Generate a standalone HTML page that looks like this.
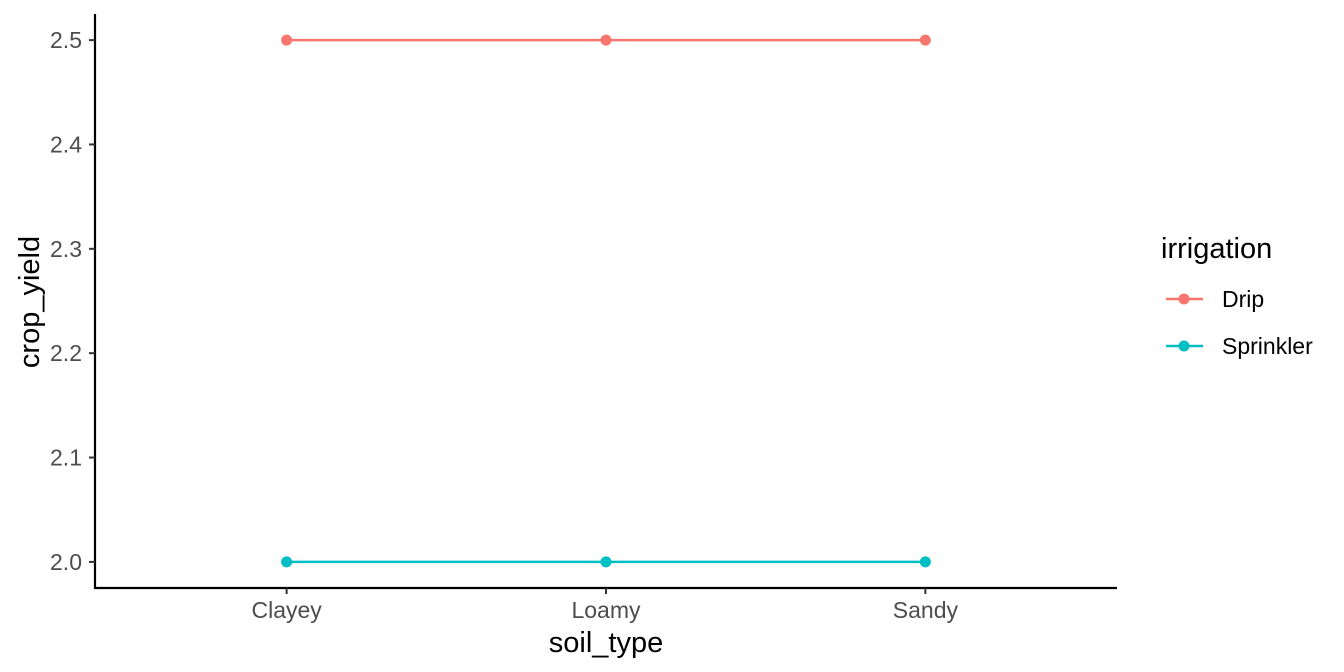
<!DOCTYPE html>
<html><head><meta charset="utf-8"><style>
html,body{margin:0;padding:0;background:#fff;}
svg{display:block;font-family:"Liberation Sans",Arial,sans-serif;}
</style></head><body>
<svg id="chart" width="1344" height="672" viewBox="0 0 1344 672" xmlns="http://www.w3.org/2000/svg">
<rect width="1344" height="672" fill="#fff"/>
<g id="plot"></g>
<g id="axes"></g>
<text transform="translate(39,302) rotate(-90)" text-anchor="middle" font-size="29" fill="#000">crop_yield</text>
<text x="606" y="652" text-anchor="middle" font-size="29" fill="#000">soil_type</text>
<g>
<text x="1161" y="258" font-size="29" fill="#000">irrigation</text>
<g>
<line x1="1166" y1="299" x2="1203" y2="299" stroke="#F8766D" stroke-width="2.5"/>
<circle cx="1184" cy="299" r="5.5" fill="#F8766D"/>
<text x="1222" y="307" font-size="23" fill="#000">Drip</text>
</g>
<g>
<line x1="1166" y1="346" x2="1203" y2="346" stroke="#00BFC4" stroke-width="2.5"/>
<circle cx="1184" cy="346" r="5.5" fill="#00BFC4"/>
<text x="1222" y="354" font-size="23" fill="#000">Sprinkler</text>
</g>
</g>
</svg>
<script>
const categories = ["Clayey", "Loamy", "Sandy"];
const dripValues = [2.5, 2.5, 2.5];
const sprinklerValues = [2.0, 2.0, 2.0];
const yTicks = [2.0, 2.1, 2.2, 2.3, 2.4, 2.5];
const yTickLabels = ["2.0", "2.1", "2.2", "2.3", "2.4", "2.5"];

const NS = "http://www.w3.org/2000/svg";
const pL = 95, pR = 1117, pT = 14, pB = 588;
const xMin = 0.4, xMax = categories.length + 0.6;
const yMin = 1.975, yMax = 2.525;
function xScale(i){ return pL + (i + 1 - xMin) / (xMax - xMin) * (pR - pL); }
function yScale(v){ return pB - (v - yMin) / (yMax - yMin) * (pB - pT); }
function mk(tag, attrs, parent){ const e = document.createElementNS(NS, tag); for (const k in attrs) e.setAttribute(k, attrs[k]); parent.appendChild(e); return e; }

const plotG = document.getElementById("plot");
const axesG = document.getElementById("axes");

const series = [
  {name: "drip", values: dripValues, color: "#F8766D"},
  {name: "sprinkler", values: sprinklerValues, color: "#00BFC4"}
];
series.forEach(s => {
  const pts = s.values.map((v, i) => xScale(i) + "," + yScale(v)).join(" ");
  const pl = mk("polyline", {points: pts, fill: "none", stroke: s.color, "stroke-width": 2.5}, plotG);
  
  
  s.values.forEach((v, i) => {
    const c = mk("circle", {cx: xScale(i), cy: yScale(v), r: 5.5, fill: s.color}, plotG);
    
    
  });
});

const yl = mk("line", {x1: pL, y1: pT, x2: pL, y2: pB + 1, stroke: "#000", "stroke-width": 2.2}, axesG);


const xl = mk("line", {x1: pL - 1, y1: pB, x2: pR, y2: pB, stroke: "#000", "stroke-width": 2.2}, axesG);



yTicks.forEach((v, i) => {
  const y = yScale(v);
  const t = mk("line", {x1: pL - 6, y1: y, x2: pL, y2: y, stroke: "#333", "stroke-width": 2}, axesG);
  
  
  const tx = mk("text", {x: pL - 13, y: y + 8, "text-anchor": "end", "font-size": 23, fill: "#4d4d4d"}, axesG);
  tx.textContent = yTickLabels[i];
  
  
});
categories.forEach((c, i) => {
  const x = xScale(i);
  const t = mk("line", {x1: x, y1: pB, x2: x, y2: pB + 6, stroke: "#333", "stroke-width": 2}, axesG);
  
  
  const tx = mk("text", {x: x, y: pB + 30, "text-anchor": "middle", "font-size": 23, fill: "#4d4d4d"}, axesG);
  tx.textContent = c;
  
  
});
</script>
</body></html>
